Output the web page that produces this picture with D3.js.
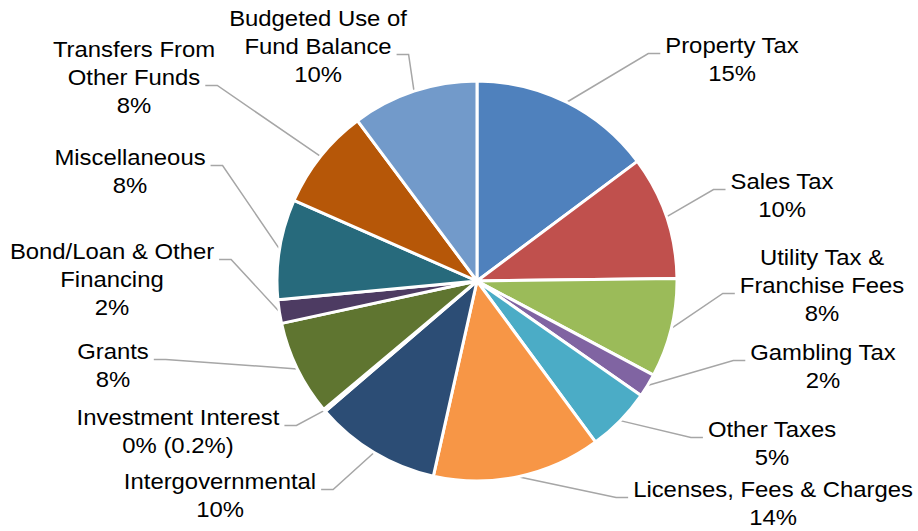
<!DOCTYPE html>
<html>
<head>
<meta charset="utf-8">
<script src="https://cdn.jsdelivr.net/npm/d3@7"></script>
<style>
  html, body { margin: 0; padding: 0; background: #fff; }
  svg { display: block; }
  text { font-family: "Liberation Sans", Arial, sans-serif; }
</style>
</head>
<body>
<svg id="chart" width="918" height="531"></svg>
<script>
// Revenue sources, share of total (%), clockwise from 12 o'clock
const categories = [
  "Property Tax",
  "Sales Tax",
  "Utility Tax &\nFranchise Fees",
  "Gambling Tax",
  "Other Taxes",
  "Licenses, Fees & Charges",
  "Intergovernmental",
  "Investment Interest",
  "Grants",
  "Bond/Loan & Other\nFinancing",
  "Miscellaneous",
  "Transfers From\nOther Funds",
  "Budgeted Use of\nFund Balance"
];
const shares = [14.8, 10.0, 8.0, 1.9, 5.2, 13.6, 10.2, 0.2, 7.7, 1.9, 8.1, 8.2, 10.2];
const colors = [
  "#4F81BD", "#C0504D", "#9BBB59", "#8064A2", "#4BACC6", "#F79646",
  "#2C4D75", "#772C2A", "#5F7530", "#4D3B62", "#276A7C", "#B65708", "#729ACA"
];

// Label placement: text centre x, first baseline y, line the leader attaches to
const labelLayout = [
  { x: 732, y: 53,  attach: 0 },
  { x: 782, y: 189, attach: 0 },
  { x: 822, y: 265, attach: 1 },
  { x: 823, y: 360, attach: 0 },
  { x: 772, y: 437, attach: 0 },
  { x: 773, y: 497, attach: 0 },
  { x: 220, y: 489, attach: 0 },
  { x: 178, y: 425, attach: 0 },
  { x: 113, y: 359, attach: 0 },
  { x: 112, y: 259, attach: 0 },
  { x: 130, y: 165, attach: 0 },
  { x: 134, y: 57,  attach: 1 },
  { x: 318, y: 26,  attach: 1 }
];

const cx = 477, cy = 281, R = 200;
const fontSize = 22, stretch = 1.085, lineH = 28;

const data = categories.map((name, i) => ({ name, share: shares[i], color: colors[i], layout: labelLayout[i] }));

const pctText = v => v < 1 ? `${Math.round(v)}% (${v}%)` : `${Math.round(v)}%`;

const svg = d3.select("#chart");
const g = svg.append("g").attr("transform", `translate(${cx},${cy})`);

const pie = d3.pie().sort(null).value(d => d.share).startAngle(0).endAngle(2 * Math.PI);
const arc = d3.arc().innerRadius(0).outerRadius(R);
const arcs = pie(data);

g.selectAll("path.slice")
  .data(arcs)
  .join("path")
  .attr("class", "slice")
  .attr("d", arc)
  .attr("fill", d => d.data.color)
  .attr("stroke", "#fff")
  .attr("stroke-width", 3)
  .attr("stroke-linejoin", "round");

// Labels
const labels = svg.append("g");
const leaders = svg.insert("g", ":first-child");

arcs.forEach(a => {
  const L = a.data.layout;
  const lines = a.data.name.split("\n").concat([pctText(a.data.share)]);
  const lg = labels.append("g").attr("transform", `translate(${L.x},0) scale(${stretch},1)`);
  const texts = lines.map((t, i) =>
    lg.append("text")
      .attr("x", 0)
      .attr("y", L.y + i * lineH)
      .attr("text-anchor", "middle")
      .attr("font-size", fontSize)
      .attr("fill", "#000")
      .text(t)
  );
  const w = texts[L.attach].node().getComputedTextLength() * stretch;
  const mid = (a.startAngle + a.endAngle) / 2;
  const px = cx + R * Math.sin(mid), py = cy - R * Math.cos(mid);
  const leftSide = L.x < cx;
  const ly = L.y + L.attach * lineH + 0.5;
  const x0 = leftSide ? L.x + w / 2 + 5 : L.x - w / 2 - 5;
  const x1 = leftSide ? x0 + 12 : x0 - 12;
  leaders.append("path")
    .attr("d", d3.line()([[x0, ly], [x1, ly], [px, py]]))
    .attr("fill", "none")
    .attr("stroke", "#A6A6A6")
    .attr("stroke-width", 1.5);
});
</script>
</body>
</html>
